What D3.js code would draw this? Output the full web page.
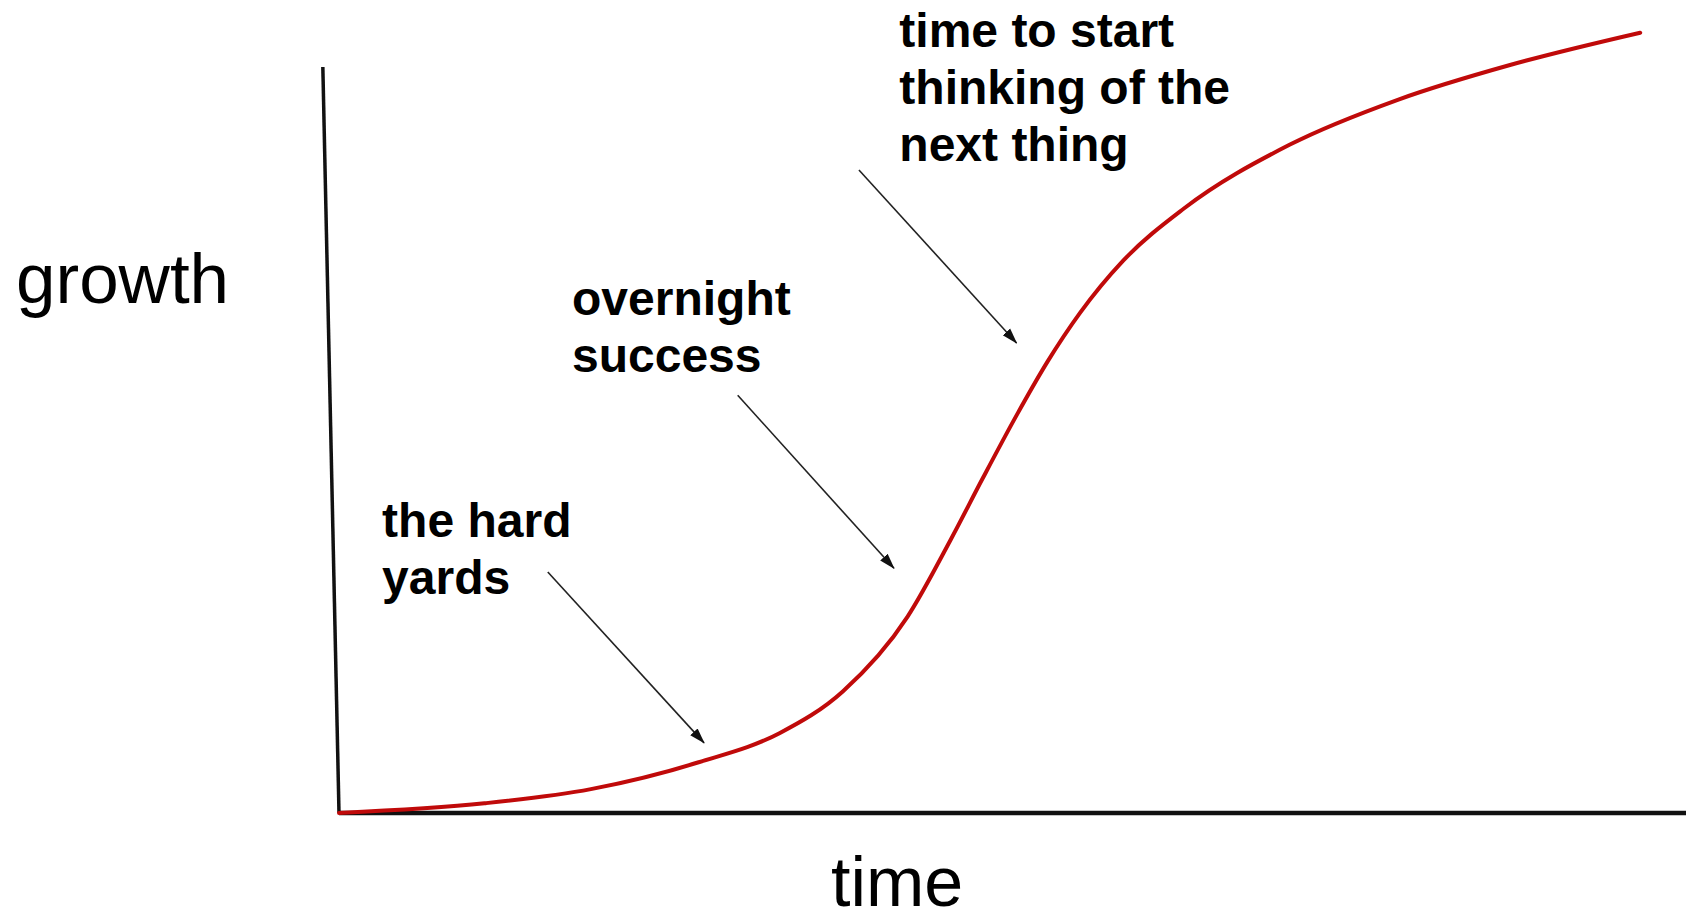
<!DOCTYPE html>
<html>
<head>
<meta charset="utf-8">
<script src="https://cdn.jsdelivr.net/npm/d3@7"></script>
<style>
  html, body { margin: 0; padding: 0; background: #fff; }
  text { font-family: "Liberation Sans", Arial, sans-serif; fill: #000; }
</style>
</head>
<body>
<div id="chart"></div>
<script>
var w = 1686,
    h = 921;

// the s-curve (time, growth)
var timeVals   = [0, 10.8, 18.7, 26.7, 32.7, 37.4, 42.2, 45.4, 47.8, 50.3, 52.6, 55.0, 58.2, 62.7, 70.6, 78.6, 87.0, 96.6];
var growthVals = [0, 1.3, 3.2, 6.8, 10.7, 16.3, 26.3, 36.6, 44.9, 53.3, 60.5, 67.0, 74.0, 81.0, 89.6, 95.6, 100.3, 104.6];

// axis lines (the vertical one leans a little)
var axisLines = [
  [[0, 0], [-1.2, 100]],
  [[0, 0], [100, 0]]
];

// annotations: label lines, label anchor, arrow from -> to
var noteLines = [
  ["the hard", "yards"],
  ["overnight", "success"],
  ["time to start", "thinking of the", "next thing"]
];
var noteAnchor = [[3.2, 37.0], [17.3, 66.8], [41.6, 102.7]];
var arrowFrom  = [[15.5, 32.3], [29.6, 56.0], [38.6, 86.2]];
var arrowTo    = [[27.1, 9.4], [41.2, 32.8], [50.3, 63.0]];

var x = d3.scaleLinear().domain([0, 100]).range([339, 1686]),
    y = d3.scaleLinear().domain([0, 100]).range([813, 67]);

var svg = d3.select("#chart").append("svg")
    .attr("width", w)
    .attr("height", h);

svg.append("defs").append("marker")
    .attr("id", "head")
    .attr("markerUnits", "userSpaceOnUse")
    .attr("viewBox", "0 -6 16 12")
    .attr("refX", 15)
    .attr("refY", 0)
    .attr("markerWidth", 16)
    .attr("markerHeight", 12)
    .attr("orient", "auto")
  .append("path")
    .attr("d", "M0,-5L16,0L0,5Z")
    .attr("fill", "#111");

var line = d3.line()
    .x(function(d) { return x(d[0]); })
    .y(function(d) { return y(d[1]); });

// axes
svg.selectAll("path.axis")
    .data(axisLines)
  .enter().append("path")
    .attr("class", "axis")
    .attr("d", line)
    .attr("fill", "none")
    .attr("stroke", "#111")
    .attr("stroke-width", function(d, i) { return i ? 4.5 : 3.5; });

// curve
var pts = timeVals.map(function(t, i) { return [t, growthVals[i]]; });
svg.append("path")
    .datum(pts)
    .attr("d", line.curve(d3.curveMonotoneX))
    .attr("fill", "none")
    .attr("stroke", "#c00a0a")
    .attr("stroke-width", 4)
    .attr("stroke-linecap", "round");

// arrows
svg.selectAll("line.arrow")
    .data(arrowFrom)
  .enter().append("line")
    .attr("class", "arrow")
    .attr("x1", function(d) { return x(d[0]); })
    .attr("y1", function(d) { return y(d[1]); })
    .attr("x2", function(d, i) { return x(arrowTo[i][0]); })
    .attr("y2", function(d, i) { return y(arrowTo[i][1]); })
    .attr("stroke", "#222")
    .attr("stroke-width", 1.6)
    .attr("marker-end", "url(#head)");

// labels
var notes = svg.selectAll("text.note")
    .data(noteLines)
  .enter().append("text")
    .attr("class", "note")
    .attr("font-size", 48)
    .attr("font-weight", "bold");

notes.selectAll("tspan")
    .data(function(d, i) { return d.map(function(s) { return {s: s, i: i}; }); })
  .enter().append("tspan")
    .attr("x", function(d) { return x(noteAnchor[d.i][0]); })
    .attr("y", function(d, j) { return y(noteAnchor[d.i][1]) + j * 57; })
    .text(function(d) { return d.s; });

// axis titles
svg.append("text")
    .attr("x", 16)
    .attr("y", 303)
    .attr("font-size", 71)
    .text("growth");

svg.append("text")
    .attr("x", 831)
    .attr("y", 906)
    .attr("font-size", 70)
    .text("time");
</script>
</body>
</html>
